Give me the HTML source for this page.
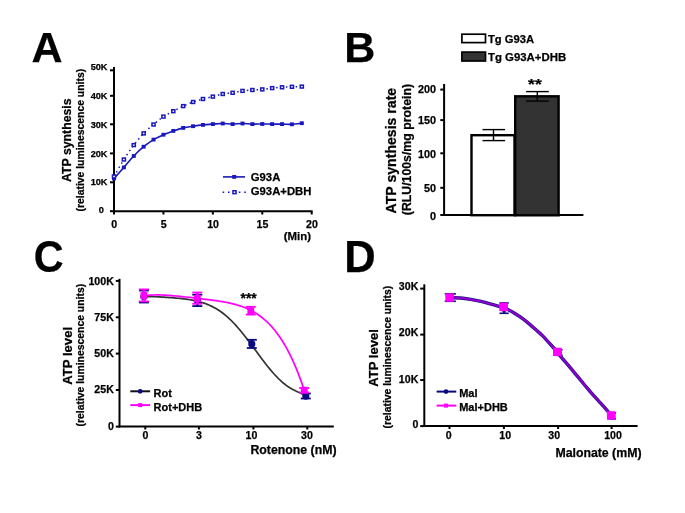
<!DOCTYPE html>
<html><head><meta charset="utf-8"><style>
html,body{margin:0;padding:0;background:#fff;}
svg{display:block;font-family:"Liberation Sans", sans-serif;will-change:transform;}
text{stroke:#000;stroke-width:0.25px;}
</style></head><body>
<svg width="685" height="513" viewBox="0 0 685 513">
<rect width="685" height="513" fill="#fff"/>
<text x="31.5" y="62.3" font-size="43" text-anchor="start" fill="#000" font-weight="bold" >A</text>
<line x1="114" y1="67" x2="114" y2="214.5" stroke="#000" stroke-width="2.0" />
<line x1="113.1" y1="211.2" x2="312.6" y2="211.2" stroke="#000" stroke-width="2.0" />
<line x1="110" y1="70.3" x2="114" y2="70.3" stroke="#000" stroke-width="2.0" />
<line x1="110" y1="95.8" x2="114" y2="95.8" stroke="#000" stroke-width="2.0" />
<line x1="110" y1="124.3" x2="114" y2="124.3" stroke="#000" stroke-width="2.0" />
<line x1="110" y1="153.4" x2="114" y2="153.4" stroke="#000" stroke-width="2.0" />
<line x1="110" y1="182.3" x2="114" y2="182.3" stroke="#000" stroke-width="2.0" />
<line x1="110" y1="211.2" x2="114" y2="211.2" stroke="#000" stroke-width="2.0" />
<text x="107.5" y="70.3" font-size="9.2" text-anchor="end" fill="#000" font-weight="bold" >50K</text>
<text x="107.5" y="99.4" font-size="9.2" text-anchor="end" fill="#000" font-weight="bold" >40K</text>
<text x="107.5" y="127.7" font-size="9.2" text-anchor="end" fill="#000" font-weight="bold" >30K</text>
<text x="107.5" y="156.7" font-size="9.2" text-anchor="end" fill="#000" font-weight="bold" >20K</text>
<text x="107.5" y="185.2" font-size="9.2" text-anchor="end" fill="#000" font-weight="bold" >10K</text>
<text x="103.9" y="213.4" font-size="9.2" text-anchor="end" fill="#000" font-weight="bold" >0</text>
<line x1="163.425" y1="211.2" x2="163.425" y2="214.5" stroke="#000" stroke-width="2.0" />
<line x1="212.85" y1="211.2" x2="212.85" y2="214.5" stroke="#000" stroke-width="2.0" />
<line x1="262.275" y1="211.2" x2="262.275" y2="214.5" stroke="#000" stroke-width="2.0" />
<line x1="311.7" y1="211.2" x2="311.7" y2="214.5" stroke="#000" stroke-width="2.0" />
<text x="114.2" y="227.5" font-size="10.6" text-anchor="middle" fill="#000" font-weight="bold" >0</text>
<text x="163.625" y="227.5" font-size="10.6" text-anchor="middle" fill="#000" font-weight="bold" >5</text>
<text x="213.04999999999998" y="227.5" font-size="10.6" text-anchor="middle" fill="#000" font-weight="bold" >10</text>
<text x="262.47499999999997" y="227.5" font-size="10.6" text-anchor="middle" fill="#000" font-weight="bold" >15</text>
<text x="311.9" y="227.5" font-size="10.6" text-anchor="middle" fill="#000" font-weight="bold" >20</text>
<text x="311.0" y="239.6" font-size="11.4" text-anchor="end" fill="#000" font-weight="bold" >(Min)</text>
<text transform="translate(71.0,140.2) rotate(-90)" font-size="12.3" text-anchor="middle" fill="#000" font-weight="bold">ATP synthesis</text>
<text transform="translate(83.6,140.2) rotate(-90)" font-size="10.4" text-anchor="middle" fill="#000" font-weight="bold">(relative luminescence units)</text>
<path d="M114.00,176.50 C115.65,173.67 120.59,164.73 123.89,159.50 C127.18,154.27 130.48,149.45 133.77,145.10 C137.06,140.75 140.36,136.83 143.66,133.40 C146.95,129.97 150.25,127.30 153.54,124.50 C156.83,121.70 160.13,118.82 163.43,116.60 C166.72,114.38 170.02,112.95 173.31,111.20 C176.60,109.45 179.90,107.63 183.19,106.10 C186.49,104.57 189.78,103.18 193.08,102.00 C196.38,100.82 199.67,99.90 202.97,99.00 C206.26,98.10 209.56,97.43 212.85,96.60 C216.14,95.77 219.44,94.63 222.74,94.00 C226.03,93.37 229.33,93.32 232.62,92.80 C235.91,92.28 239.21,91.37 242.50,90.90 C245.80,90.43 249.09,90.25 252.39,90.00 C255.68,89.75 258.98,89.72 262.27,89.40 C265.57,89.08 268.86,88.45 272.16,88.10 C275.45,87.75 278.75,87.52 282.04,87.30 C285.34,87.08 288.63,86.92 291.93,86.80 C295.23,86.68 300.17,86.63 301.81,86.60" fill="none" stroke="#1818bc" stroke-width="1.5" stroke-dasharray="1.5 3.4"/>
<path d="M114.00,178.50 C115.65,176.65 120.59,171.15 123.89,167.40 C127.18,163.65 130.48,159.45 133.77,156.00 C137.06,152.55 140.36,149.43 143.66,146.70 C146.95,143.97 150.25,141.60 153.54,139.60 C156.83,137.60 160.13,136.15 163.43,134.70 C166.72,133.25 170.02,132.03 173.31,130.90 C176.60,129.77 179.90,128.68 183.19,127.90 C186.49,127.12 189.78,126.70 193.08,126.20 C196.38,125.70 199.67,125.25 202.97,124.90 C206.26,124.55 209.56,124.33 212.85,124.10 C216.14,123.87 219.44,123.50 222.74,123.50 C226.03,123.50 229.33,124.10 232.62,124.10 C235.91,124.10 239.21,123.50 242.50,123.50 C245.80,123.50 249.09,124.02 252.39,124.10 C255.68,124.18 258.98,124.00 262.27,124.00 C265.57,124.00 268.86,124.08 272.16,124.10 C275.45,124.12 278.75,124.07 282.04,124.10 C285.34,124.13 288.63,124.45 291.93,124.30 C295.23,124.15 300.17,123.38 301.81,123.20" fill="none" stroke="#1818bc" stroke-width="1.6" />
<rect x="112.0" y="176.6" width="4" height="3.8" fill="#1818bc" stroke="none" stroke-width="0"/>
<rect x="121.885" y="165.5" width="4" height="3.8" fill="#1818bc" stroke="none" stroke-width="0"/>
<rect x="131.77" y="154.1" width="4" height="3.8" fill="#1818bc" stroke="none" stroke-width="0"/>
<rect x="141.655" y="144.79999999999998" width="4" height="3.8" fill="#1818bc" stroke="none" stroke-width="0"/>
<rect x="151.54" y="137.7" width="4" height="3.8" fill="#1818bc" stroke="none" stroke-width="0"/>
<rect x="161.425" y="132.79999999999998" width="4" height="3.8" fill="#1818bc" stroke="none" stroke-width="0"/>
<rect x="171.31" y="129.0" width="4" height="3.8" fill="#1818bc" stroke="none" stroke-width="0"/>
<rect x="181.195" y="126.0" width="4" height="3.8" fill="#1818bc" stroke="none" stroke-width="0"/>
<rect x="191.07999999999998" y="124.3" width="4" height="3.8" fill="#1818bc" stroke="none" stroke-width="0"/>
<rect x="200.965" y="123.0" width="4" height="3.8" fill="#1818bc" stroke="none" stroke-width="0"/>
<rect x="210.85" y="122.19999999999999" width="4" height="3.8" fill="#1818bc" stroke="none" stroke-width="0"/>
<rect x="220.735" y="121.6" width="4" height="3.8" fill="#1818bc" stroke="none" stroke-width="0"/>
<rect x="230.62" y="122.19999999999999" width="4" height="3.8" fill="#1818bc" stroke="none" stroke-width="0"/>
<rect x="240.505" y="121.6" width="4" height="3.8" fill="#1818bc" stroke="none" stroke-width="0"/>
<rect x="250.39" y="122.19999999999999" width="4" height="3.8" fill="#1818bc" stroke="none" stroke-width="0"/>
<rect x="260.275" y="122.1" width="4" height="3.8" fill="#1818bc" stroke="none" stroke-width="0"/>
<rect x="270.15999999999997" y="122.19999999999999" width="4" height="3.8" fill="#1818bc" stroke="none" stroke-width="0"/>
<rect x="280.04499999999996" y="122.19999999999999" width="4" height="3.8" fill="#1818bc" stroke="none" stroke-width="0"/>
<rect x="289.93" y="122.39999999999999" width="4" height="3.8" fill="#1818bc" stroke="none" stroke-width="0"/>
<rect x="299.815" y="121.3" width="4" height="3.8" fill="#1818bc" stroke="none" stroke-width="0"/>
<rect x="112.45" y="175.05" width="3.1" height="2.9" fill="#fff" stroke="#1818bc" stroke-width="1.5"/>
<rect x="122.33500000000001" y="158.05" width="3.1" height="2.9" fill="#fff" stroke="#1818bc" stroke-width="1.5"/>
<rect x="132.22" y="143.65" width="3.1" height="2.9" fill="#fff" stroke="#1818bc" stroke-width="1.5"/>
<rect x="142.105" y="131.95000000000002" width="3.1" height="2.9" fill="#fff" stroke="#1818bc" stroke-width="1.5"/>
<rect x="151.98999999999998" y="123.05" width="3.1" height="2.9" fill="#fff" stroke="#1818bc" stroke-width="1.5"/>
<rect x="161.875" y="115.14999999999999" width="3.1" height="2.9" fill="#fff" stroke="#1818bc" stroke-width="1.5"/>
<rect x="171.76" y="109.75" width="3.1" height="2.9" fill="#fff" stroke="#1818bc" stroke-width="1.5"/>
<rect x="181.64499999999998" y="104.64999999999999" width="3.1" height="2.9" fill="#fff" stroke="#1818bc" stroke-width="1.5"/>
<rect x="191.52999999999997" y="100.55" width="3.1" height="2.9" fill="#fff" stroke="#1818bc" stroke-width="1.5"/>
<rect x="201.415" y="97.55" width="3.1" height="2.9" fill="#fff" stroke="#1818bc" stroke-width="1.5"/>
<rect x="211.29999999999998" y="95.14999999999999" width="3.1" height="2.9" fill="#fff" stroke="#1818bc" stroke-width="1.5"/>
<rect x="221.185" y="92.55" width="3.1" height="2.9" fill="#fff" stroke="#1818bc" stroke-width="1.5"/>
<rect x="231.07" y="91.35" width="3.1" height="2.9" fill="#fff" stroke="#1818bc" stroke-width="1.5"/>
<rect x="240.95499999999998" y="89.45" width="3.1" height="2.9" fill="#fff" stroke="#1818bc" stroke-width="1.5"/>
<rect x="250.83999999999997" y="88.55" width="3.1" height="2.9" fill="#fff" stroke="#1818bc" stroke-width="1.5"/>
<rect x="260.72499999999997" y="87.95" width="3.1" height="2.9" fill="#fff" stroke="#1818bc" stroke-width="1.5"/>
<rect x="270.60999999999996" y="86.64999999999999" width="3.1" height="2.9" fill="#fff" stroke="#1818bc" stroke-width="1.5"/>
<rect x="280.49499999999995" y="85.85" width="3.1" height="2.9" fill="#fff" stroke="#1818bc" stroke-width="1.5"/>
<rect x="290.38" y="85.35" width="3.1" height="2.9" fill="#fff" stroke="#1818bc" stroke-width="1.5"/>
<rect x="300.265" y="85.14999999999999" width="3.1" height="2.9" fill="#fff" stroke="#1818bc" stroke-width="1.5"/>
<line x1="223" y1="176.9" x2="245" y2="176.9" stroke="#1818bc" stroke-width="1.6" />
<rect x="232.2" y="175.0" width="4" height="3.8" fill="#1818bc" stroke="none" stroke-width="0"/>
<line x1="222.6" y1="192.2" x2="246" y2="192.2" stroke="#1818bc" stroke-width="1.5" stroke-dasharray="1.6 3.8"/>
<rect x="232.95" y="190.75" width="3.1" height="2.9" fill="#fff" stroke="#1818bc" stroke-width="1.5"/>
<text x="250.8" y="180.9" font-size="11.3" text-anchor="start" fill="#000" font-weight="bold" >G93A</text>
<text x="250.8" y="195.2" font-size="11.3" text-anchor="start" fill="#000" font-weight="bold" >G93A+DBH</text>
<text x="344.2" y="62.4" font-size="43" text-anchor="start" fill="#000" font-weight="bold" >B</text>
<rect x="461.9" y="34.2" width="23.6" height="8.4" fill="#fff" stroke="#000" stroke-width="1.7"/>
<rect x="461.9" y="52.1" width="23.6" height="8.9" fill="#333" stroke="#000" stroke-width="1.7"/>
<text x="488.0" y="43.2" font-size="11.2" text-anchor="start" fill="#000" font-weight="bold" >Tg G93A</text>
<text x="488.0" y="60.6" font-size="11.4" text-anchor="start" fill="#000" font-weight="bold" >Tg G93A+DHB</text>
<line x1="444.1" y1="84" x2="444.1" y2="215.8" stroke="#000" stroke-width="2.0" />
<line x1="443.2" y1="215.0" x2="583.4" y2="215.0" stroke="#000" stroke-width="2.0" />
<line x1="440.3" y1="89.6" x2="444.1" y2="89.6" stroke="#000" stroke-width="2.0" />
<line x1="440.3" y1="120.1" x2="444.1" y2="120.1" stroke="#000" stroke-width="2.0" />
<line x1="440.3" y1="153.3" x2="444.1" y2="153.3" stroke="#000" stroke-width="2.0" />
<line x1="440.3" y1="187.8" x2="444.1" y2="187.8" stroke="#000" stroke-width="2.0" />
<line x1="440.3" y1="215.0" x2="444.1" y2="215.0" stroke="#000" stroke-width="2.0" />
<text x="436.0" y="92.8" font-size="10.8" text-anchor="end" fill="#000" font-weight="bold" >200</text>
<text x="436.0" y="123.5" font-size="10.8" text-anchor="end" fill="#000" font-weight="bold" >150</text>
<text x="436.0" y="158.0" font-size="10.8" text-anchor="end" fill="#000" font-weight="bold" >100</text>
<text x="436.0" y="191.7" font-size="10.8" text-anchor="end" fill="#000" font-weight="bold" >50</text>
<text x="436.0" y="220.4" font-size="10.8" text-anchor="end" fill="#000" font-weight="bold" >0</text>
<rect x="471.5" y="135.2" width="43.0" height="80" fill="#fff" stroke="#000" stroke-width="2.4"/>
<rect x="515.2" y="96.3" width="43.4" height="119" fill="#333" stroke="#000" stroke-width="2.4"/>
<line x1="493.5" y1="129.6" x2="493.5" y2="140.6" stroke="#000" stroke-width="1.4" />
<line x1="482.5" y1="129.6" x2="505.1" y2="129.6" stroke="#000" stroke-width="1.4" />
<line x1="482.5" y1="140.6" x2="505.1" y2="140.6" stroke="#000" stroke-width="1.4" />
<line x1="537.3" y1="91.6" x2="537.3" y2="101.1" stroke="#000" stroke-width="1.4" />
<line x1="526.0" y1="91.6" x2="548.8" y2="91.6" stroke="#000" stroke-width="1.4" />
<line x1="526.0" y1="101.1" x2="548.8" y2="101.1" stroke="#000" stroke-width="1.4" />
<text x="534.9" y="89.9" font-size="17.5" text-anchor="middle" fill="#000" font-weight="bold" transform="translate(0,84) scale(1,0.88) translate(0,-84)">**</text>
<text transform="translate(396.4,150.6) rotate(-90)" font-size="14.1" text-anchor="middle" fill="#000" font-weight="bold">ATP synthesis rate</text>
<text transform="translate(410.6,149.6) rotate(-90)" font-size="12.3" text-anchor="middle" fill="#000" font-weight="bold">(RLU/100s/mg protein)</text>
<text x="33.8" y="272.4" font-size="44.5" text-anchor="start" fill="#000" font-weight="bold" transform="translate(33.8,0) scale(0.93,1) translate(-33.8,0)">C</text>
<line x1="119.5" y1="278.8" x2="119.5" y2="427.4" stroke="#000" stroke-width="2.0" />
<line x1="118.6" y1="426.6" x2="333.8" y2="426.6" stroke="#000" stroke-width="2.0" />
<line x1="115.8" y1="280.9" x2="119.5" y2="280.9" stroke="#000" stroke-width="2.0" />
<line x1="115.8" y1="317.3" x2="119.5" y2="317.3" stroke="#000" stroke-width="2.0" />
<line x1="115.8" y1="353.6" x2="119.5" y2="353.6" stroke="#000" stroke-width="2.0" />
<line x1="115.8" y1="390.0" x2="119.5" y2="390.0" stroke="#000" stroke-width="2.0" />
<line x1="115.8" y1="426.6" x2="119.5" y2="426.6" stroke="#000" stroke-width="2.0" />
<text x="113.8" y="284.5" font-size="10.6" text-anchor="end" fill="#000" font-weight="bold" >100K</text>
<text x="113.8" y="320.6" font-size="10.6" text-anchor="end" fill="#000" font-weight="bold" >75K</text>
<text x="113.8" y="356.9" font-size="10.6" text-anchor="end" fill="#000" font-weight="bold" >50K</text>
<text x="113.8" y="393.4" font-size="10.6" text-anchor="end" fill="#000" font-weight="bold" >25K</text>
<text x="113.8" y="429.8" font-size="10.6" text-anchor="end" fill="#000" font-weight="bold" >0</text>
<line x1="145.3" y1="426.6" x2="145.3" y2="429.5" stroke="#000" stroke-width="2.0" />
<line x1="198.9" y1="426.6" x2="198.9" y2="429.5" stroke="#000" stroke-width="2.0" />
<line x1="253.4" y1="426.6" x2="253.4" y2="429.5" stroke="#000" stroke-width="2.0" />
<line x1="307.3" y1="426.6" x2="307.3" y2="429.5" stroke="#000" stroke-width="2.0" />
<text x="145.5" y="438.7" font-size="10.6" text-anchor="middle" fill="#000" font-weight="bold" >0</text>
<text x="199.0" y="438.7" font-size="10.6" text-anchor="middle" fill="#000" font-weight="bold" >3</text>
<text x="251.5" y="438.7" font-size="10.6" text-anchor="middle" fill="#000" font-weight="bold" >10</text>
<text x="306.9" y="438.7" font-size="10.6" text-anchor="middle" fill="#000" font-weight="bold" >30</text>
<text x="336.5" y="454.2" font-size="12.3" text-anchor="end" fill="#000" font-weight="bold" >Rotenone (nM)</text>
<text x="248.6" y="302.6" font-size="13.8" text-anchor="middle" fill="#000" font-weight="bold" >***</text>
<text transform="translate(71.6,355.8) rotate(-90)" font-size="13.1" text-anchor="middle" fill="#000" font-weight="bold">ATP level</text>
<text transform="translate(84.2,355.2) rotate(-90)" font-size="10.4" text-anchor="middle" fill="#000" font-weight="bold">(relative luminescence units)</text>
<path d="M143.90,296.53 L145.90,296.52 L147.90,296.53 L149.90,296.56 L151.90,296.61 L153.90,296.67 L155.90,296.75 L157.90,296.83 L159.90,296.93 L161.90,297.04 L163.90,297.16 L165.90,297.28 L167.90,297.42 L169.90,297.56 L171.90,297.72 L173.90,297.88 L175.90,298.06 L177.90,298.25 L179.90,298.45 L181.90,298.67 L183.90,298.91 L185.90,299.17 L187.90,299.46 L189.90,299.78 L191.90,300.13 L193.90,300.51 L195.90,300.93 L197.90,301.40 L199.90,301.92 L201.90,302.49 L203.90,303.13 L205.90,303.82 L207.90,304.59 L209.90,305.44 L211.90,306.37 L213.90,307.39 L215.90,308.51 L217.90,309.73 L219.90,311.05 L221.90,312.47 L223.90,314.01 L225.90,315.65 L227.90,317.40 L229.90,319.26 L231.90,321.22 L233.90,323.28 L235.90,325.44 L237.90,327.69 L239.90,330.03 L241.90,332.45 L243.90,334.94 L245.90,337.49 L247.90,340.10 L249.90,342.76 L251.90,345.44 L253.90,348.15 L255.90,350.87 L257.90,353.58 L259.90,356.27 L261.90,358.94 L263.90,361.57 L265.90,364.15 L267.90,366.67 L269.90,369.12 L271.90,371.49 L273.90,373.77 L275.90,375.95 L277.90,378.03 L279.90,379.99 L281.90,381.82 L283.90,383.52 L285.90,385.09 L287.90,386.53 L289.90,387.84 L291.90,389.03 L293.90,390.10 L295.90,391.08 L297.90,391.97 L299.90,392.79 L301.90,393.57 L303.90,394.33 L305.50,394.94" fill="none" stroke="#333" stroke-width="1.7" stroke-linejoin="round"/>
<path d="M143.90,295.91 L145.90,295.62 L147.90,295.38 L149.90,295.20 L151.90,295.07 L153.90,294.99 L155.90,294.94 L157.90,294.93 L159.90,294.96 L161.90,295.01 L163.90,295.09 L165.90,295.20 L167.90,295.32 L169.90,295.47 L171.90,295.63 L173.90,295.80 L175.90,295.98 L177.90,296.18 L179.90,296.38 L181.90,296.59 L183.90,296.80 L185.90,297.02 L187.90,297.24 L189.90,297.46 L191.90,297.68 L193.90,297.91 L195.90,298.14 L197.90,298.37 L199.90,298.60 L201.90,298.83 L203.90,299.07 L205.90,299.31 L207.90,299.56 L209.90,299.81 L211.90,300.07 L213.90,300.34 L215.90,300.62 L217.90,300.92 L219.90,301.23 L221.90,301.56 L223.90,301.91 L225.90,302.28 L227.90,302.68 L229.90,303.11 L231.90,303.57 L233.90,304.07 L235.90,304.61 L237.90,305.20 L239.90,305.84 L241.90,306.52 L243.90,307.27 L245.90,308.08 L247.90,308.96 L249.90,309.91 L251.90,310.94 L253.90,312.05 L255.90,313.26 L257.90,314.56 L259.90,315.96 L261.90,317.47 L263.90,319.10 L265.90,320.85 L267.90,322.73 L269.90,324.75 L271.90,326.92 L273.90,329.25 L275.90,331.73 L277.90,334.39 L279.90,337.23 L281.90,340.27 L283.90,343.50 L285.90,346.94 L287.90,350.61 L289.90,354.51 L291.90,358.64 L293.90,363.04 L295.90,367.69 L297.90,372.62 L299.90,377.84 L301.90,383.36 L303.90,389.20 L304.20,390.10" fill="none" stroke="#ff00ff" stroke-width="1.7" stroke-linejoin="round"/>
<line x1="143.9" y1="290.5" x2="143.9" y2="302.5" stroke="#0a0a80" stroke-width="2.6" />
<line x1="138.9" y1="290.5" x2="148.9" y2="290.5" stroke="#0a0a80" stroke-width="1.8" />
<line x1="138.9" y1="302.5" x2="148.9" y2="302.5" stroke="#0a0a80" stroke-width="1.8" />
<circle cx="143.9" cy="296.5" r="3.6" fill="#0a0a80"/>
<line x1="197.3" y1="294.7" x2="197.3" y2="306.1" stroke="#0a0a80" stroke-width="2.6" />
<line x1="192.3" y1="294.7" x2="202.3" y2="294.7" stroke="#0a0a80" stroke-width="1.8" />
<line x1="192.3" y1="306.1" x2="202.3" y2="306.1" stroke="#0a0a80" stroke-width="1.8" />
<circle cx="197.3" cy="300.2" r="3.6" fill="#0a0a80"/>
<line x1="251.8" y1="339.8" x2="251.8" y2="348.0" stroke="#0a0a80" stroke-width="2.6" />
<line x1="246.8" y1="339.8" x2="256.8" y2="339.8" stroke="#0a0a80" stroke-width="1.8" />
<line x1="246.8" y1="348.0" x2="256.8" y2="348.0" stroke="#0a0a80" stroke-width="1.8" />
<circle cx="251.8" cy="343.9" r="3.6" fill="#0a0a80"/>
<line x1="305.8" y1="393.5" x2="305.8" y2="398.5" stroke="#0a0a80" stroke-width="2.6" />
<line x1="300.8" y1="393.5" x2="310.8" y2="393.5" stroke="#0a0a80" stroke-width="1.8" />
<line x1="300.8" y1="398.5" x2="310.8" y2="398.5" stroke="#0a0a80" stroke-width="1.8" />
<circle cx="305.8" cy="396.1" r="3.6" fill="#0a0a80"/>
<line x1="143.9" y1="289.4" x2="143.9" y2="301.4" stroke="#ff00ff" stroke-width="2.6" />
<line x1="138.9" y1="289.4" x2="148.9" y2="289.4" stroke="#ff00ff" stroke-width="1.8" />
<line x1="138.9" y1="301.4" x2="148.9" y2="301.4" stroke="#ff00ff" stroke-width="1.8" />
<rect x="140.5" y="292.1" width="6.8" height="6.8" fill="#ff00ff" stroke="none" stroke-width="0"/>
<line x1="197.3" y1="292.5" x2="197.3" y2="303.8" stroke="#ff00ff" stroke-width="2.6" />
<line x1="192.3" y1="292.5" x2="202.3" y2="292.5" stroke="#ff00ff" stroke-width="1.8" />
<line x1="192.3" y1="303.8" x2="202.3" y2="303.8" stroke="#ff00ff" stroke-width="1.8" />
<rect x="193.9" y="295.1" width="6.8" height="6.8" fill="#ff00ff" stroke="none" stroke-width="0"/>
<line x1="250.8" y1="306.8" x2="250.8" y2="314.6" stroke="#ff00ff" stroke-width="2.6" />
<line x1="245.8" y1="306.8" x2="255.8" y2="306.8" stroke="#ff00ff" stroke-width="1.8" />
<line x1="245.8" y1="314.6" x2="255.8" y2="314.6" stroke="#ff00ff" stroke-width="1.8" />
<rect x="247.4" y="307.6" width="6.8" height="6.8" fill="#ff00ff" stroke="none" stroke-width="0"/>
<line x1="304.2" y1="388.0" x2="304.2" y2="392.5" stroke="#ff00ff" stroke-width="2.6" />
<line x1="299.2" y1="388.0" x2="309.2" y2="388.0" stroke="#ff00ff" stroke-width="1.8" />
<line x1="299.2" y1="392.5" x2="309.2" y2="392.5" stroke="#ff00ff" stroke-width="1.8" />
<rect x="300.8" y="386.8" width="6.8" height="6.8" fill="#ff00ff" stroke="none" stroke-width="0"/>
<line x1="130.3" y1="391.3" x2="150.1" y2="391.3" stroke="#111" stroke-width="2.0" />
<circle cx="140.2" cy="391.3" r="2.4" fill="#0a0a80"/>
<line x1="130.3" y1="405.1" x2="150.1" y2="405.1" stroke="#ff00ff" stroke-width="2.0" />
<rect x="138.2" y="403.1" width="4" height="4" fill="#ff00ff" stroke="none" stroke-width="0"/>
<text x="153.6" y="396.5" font-size="11" text-anchor="start" fill="#000" font-weight="bold" >Rot</text>
<text x="153.6" y="410.7" font-size="11" text-anchor="start" fill="#000" font-weight="bold" >Rot+DHB</text>
<text x="344.2" y="272.1" font-size="43.5" text-anchor="start" fill="#000" font-weight="bold" >D</text>
<line x1="424.3" y1="284.3" x2="424.3" y2="426.9" stroke="#000" stroke-width="2.0" />
<line x1="423.4" y1="426.1" x2="637.6" y2="426.1" stroke="#000" stroke-width="2.0" />
<line x1="420.2" y1="288.6" x2="424.3" y2="288.6" stroke="#000" stroke-width="2.0" />
<line x1="420.2" y1="334.6" x2="424.3" y2="334.6" stroke="#000" stroke-width="2.0" />
<line x1="420.2" y1="380.0" x2="424.3" y2="380.0" stroke="#000" stroke-width="2.0" />
<line x1="420.2" y1="426.1" x2="424.3" y2="426.1" stroke="#000" stroke-width="2.0" />
<text x="418.3" y="290.2" font-size="10.6" text-anchor="end" fill="#000" font-weight="bold" >30K</text>
<text x="418.3" y="336.4" font-size="10.6" text-anchor="end" fill="#000" font-weight="bold" >20K</text>
<text x="418.3" y="382.6" font-size="10.6" text-anchor="end" fill="#000" font-weight="bold" >10K</text>
<text x="418.3" y="428.0" font-size="10.6" text-anchor="end" fill="#000" font-weight="bold" >0</text>
<line x1="449.5" y1="426.1" x2="449.5" y2="429.0" stroke="#000" stroke-width="2.0" />
<line x1="503.9" y1="426.1" x2="503.9" y2="429.0" stroke="#000" stroke-width="2.0" />
<line x1="558.1" y1="426.1" x2="558.1" y2="429.0" stroke="#000" stroke-width="2.0" />
<line x1="611.6" y1="426.1" x2="611.6" y2="429.0" stroke="#000" stroke-width="2.0" />
<text x="448.6" y="438.8" font-size="10.6" text-anchor="middle" fill="#000" font-weight="bold" >0</text>
<text x="505.2" y="438.8" font-size="10.6" text-anchor="middle" fill="#000" font-weight="bold" >10</text>
<text x="554.2" y="438.8" font-size="10.6" text-anchor="middle" fill="#000" font-weight="bold" >30</text>
<text x="613.0" y="438.8" font-size="10.6" text-anchor="middle" fill="#000" font-weight="bold" >100</text>
<text x="641.5" y="456.5" font-size="12.3" text-anchor="end" fill="#000" font-weight="bold" >Malonate (mM)</text>
<text transform="translate(378.4,357.9) rotate(-90)" font-size="13.1" text-anchor="middle" fill="#000" font-weight="bold">ATP level</text>
<text transform="translate(391.4,357.2) rotate(-90)" font-size="10.4" text-anchor="middle" fill="#000" font-weight="bold">(relative luminescence units)</text>
<path d="M450.00,297.80 C451.73,297.83 456.95,297.73 460.40,298.00 C463.85,298.27 467.28,298.83 470.70,299.40 C474.12,299.97 477.50,300.62 480.90,301.40 C484.30,302.18 487.32,303.07 491.10,304.10 C494.88,305.13 500.73,306.65 503.60,307.60 C506.47,308.55 506.48,308.85 508.30,309.80 C510.12,310.75 512.17,311.87 514.50,313.30 C516.83,314.73 519.70,316.52 522.30,318.40 C524.90,320.28 527.83,322.70 530.10,324.60 C532.37,326.50 533.80,327.92 535.90,329.80 C538.00,331.68 540.42,333.63 542.70,335.90 C544.98,338.17 547.17,340.72 549.60,343.40 C552.03,346.08 555.43,349.78 557.30,352.00 C559.17,354.22 558.75,354.22 560.80,356.70 C562.85,359.18 566.92,363.73 569.60,366.90 C572.28,370.07 574.47,372.77 576.90,375.70 C579.33,378.63 581.77,381.58 584.20,384.50 C586.63,387.42 589.05,390.40 591.50,393.20 C593.95,396.00 596.45,398.62 598.90,401.30 C601.35,403.98 604.15,406.97 606.20,409.30 C608.25,411.63 610.37,414.30 611.20,415.30" fill="none" stroke="#20108c" stroke-width="3.4" />
<path d="M450.00,297.80 C451.73,297.83 456.95,297.73 460.40,298.00 C463.85,298.27 467.28,298.83 470.70,299.40 C474.12,299.97 477.50,300.62 480.90,301.40 C484.30,302.18 487.32,303.07 491.10,304.10 C494.88,305.13 500.73,306.65 503.60,307.60 C506.47,308.55 506.48,308.85 508.30,309.80 C510.12,310.75 512.17,311.87 514.50,313.30 C516.83,314.73 519.70,316.52 522.30,318.40 C524.90,320.28 527.83,322.70 530.10,324.60 C532.37,326.50 533.80,327.92 535.90,329.80 C538.00,331.68 540.42,333.63 542.70,335.90 C544.98,338.17 547.17,340.72 549.60,343.40 C552.03,346.08 555.43,349.78 557.30,352.00 C559.17,354.22 558.75,354.22 560.80,356.70 C562.85,359.18 566.92,363.73 569.60,366.90 C572.28,370.07 574.47,372.77 576.90,375.70 C579.33,378.63 581.77,381.58 584.20,384.50 C586.63,387.42 589.05,390.40 591.50,393.20 C593.95,396.00 596.45,398.62 598.90,401.30 C601.35,403.98 604.15,406.97 606.20,409.30 C608.25,411.63 610.37,414.30 611.20,415.30" fill="none" stroke="#9000cc" stroke-width="2.0" />
<line x1="450.3" y1="293.9" x2="450.3" y2="301.3" stroke="#0a0a80" stroke-width="2.4000000000000004" />
<line x1="444.7" y1="293.9" x2="455.90000000000003" y2="293.9" stroke="#0a0a80" stroke-width="1.6" />
<line x1="444.7" y1="301.3" x2="455.90000000000003" y2="301.3" stroke="#0a0a80" stroke-width="1.6" />
<circle cx="450.3" cy="297.6" r="3.6" fill="#0a0a80"/>
<line x1="504.1" y1="303.0" x2="504.1" y2="313.3" stroke="#0a0a80" stroke-width="2.4000000000000004" />
<line x1="499.5" y1="303.0" x2="508.70000000000005" y2="303.0" stroke="#0a0a80" stroke-width="1.6" />
<line x1="499.5" y1="313.3" x2="508.70000000000005" y2="313.3" stroke="#0a0a80" stroke-width="1.6" />
<circle cx="504.1" cy="308.2" r="3.6" fill="#0a0a80"/>
<line x1="558.2" y1="349.8" x2="558.2" y2="355.2" stroke="#0a0a80" stroke-width="2.4000000000000004" />
<line x1="553.8000000000001" y1="349.8" x2="562.6" y2="349.8" stroke="#0a0a80" stroke-width="1.6" />
<line x1="553.8000000000001" y1="355.2" x2="562.6" y2="355.2" stroke="#0a0a80" stroke-width="1.6" />
<circle cx="558.2" cy="352.6" r="3.6" fill="#0a0a80"/>
<line x1="611.8" y1="413.0" x2="611.8" y2="418.8" stroke="#0a0a80" stroke-width="2.4000000000000004" />
<line x1="607.5999999999999" y1="413.0" x2="616.0" y2="413.0" stroke="#0a0a80" stroke-width="1.6" />
<line x1="607.5999999999999" y1="418.8" x2="616.0" y2="418.8" stroke="#0a0a80" stroke-width="1.6" />
<circle cx="611.8" cy="416.0" r="3.6" fill="#0a0a80"/>
<rect x="445.3" y="293.40000000000003" width="8.6" height="8.4" fill="#ff00ff" stroke="none" stroke-width="0"/>
<rect x="499.3" y="302.7" width="8.6" height="8.4" fill="#ff00ff" stroke="none" stroke-width="0"/>
<rect x="553.0" y="347.7" width="8.6" height="8.4" fill="#ff00ff" stroke="none" stroke-width="0"/>
<rect x="606.9000000000001" y="411.2" width="8.6" height="8.4" fill="#ff00ff" stroke="none" stroke-width="0"/>
<line x1="436.6" y1="391.6" x2="456.3" y2="391.6" stroke="#0a0a80" stroke-width="2.0" />
<circle cx="446.0" cy="391.6" r="2.4" fill="#0a0a80"/>
<line x1="436.6" y1="405.6" x2="456.3" y2="405.6" stroke="#ff00ff" stroke-width="2.0" />
<rect x="444.0" y="403.6" width="4" height="4" fill="#ff00ff" stroke="none" stroke-width="0"/>
<text x="459.2" y="396.9" font-size="11" text-anchor="start" fill="#000" font-weight="bold" >Mal</text>
<text x="459.2" y="411.0" font-size="11" text-anchor="start" fill="#000" font-weight="bold" >Mal+DHB</text>
</svg>
</body></html>
